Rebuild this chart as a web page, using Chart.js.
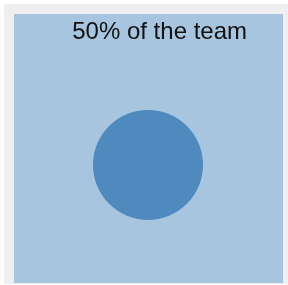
<!DOCTYPE html>
<html>
<head>
<meta charset="utf-8">
<script src="https://cdn.jsdelivr.net/npm/chart.js@4"></script>
<style>
  html, body { margin: 0; padding: 0; background: #fff; }
  #frame {
    position: absolute; left: 4px; top: 4px;
    width: 284px; height: 280px;
    background: #efefef;
  }
  #myChart {
    position: absolute; left: 10px; top: 10px;
    background: #a8c5df;
  }
</style>
</head>
<body>
<div id="frame">
  <canvas id="myChart" width="269" height="269"></canvas>
</div>
<script>
// data
var labels = ["team"];
var shares = [50];
var titleText = "50% of the team";

(function() {
  var ctx = document.getElementById("myChart").getContext("2d");
  var chart = new Chart(ctx, {
    type: "pie",
    data: {
      labels: labels,
      datasets: [{
        data: shares,
        backgroundColor: "#4e8abe",
        borderWidth: 0
      }]
    },
    options: {
      responsive: false,
      animation: false,
      radius: 55,
      layout: { padding: { top: 0, left: 35, right: 36, bottom: 10 } },
      plugins: {
        legend: { display: false },
        tooltip: { enabled: false },
        title: {
          display: true,
          text: titleText,
          align: "end",
          color: "#111",
          font: { family: "Liberation Sans, Arial, sans-serif", size: 24, weight: "normal" },
          padding: { top: 4, bottom: 10 }
        }
      }
    }
  });
})();
</script>
</body>
</html>
